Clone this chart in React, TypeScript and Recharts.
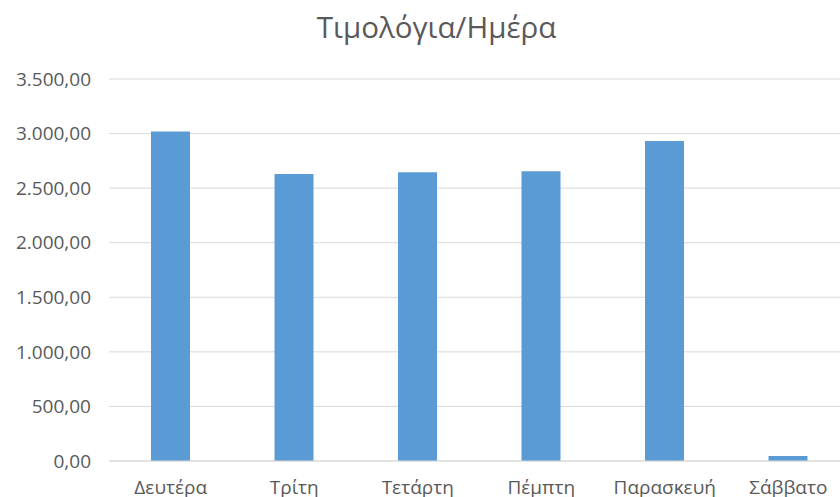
import { BarChart, Bar, XAxis, YAxis, CartesianGrid } from 'recharts'

const days = ['Δευτέρα', 'Τρίτη', 'Τετάρτη', 'Πέμπτη', 'Παρασκευή', 'Σάββατο']
const invoices = [3018, 2630, 2646, 2655, 2933, 46]
const yTicks = [0, 500, 1000, 1500, 2000, 2500, 3000, 3500]

const FONT = '"Open Sans", sans-serif'
const TEXT = '#595959'

// 3500 -> "3.500,00"
function formatGreek(v: number) {
  const [int, dec] = v.toFixed(2).split('.')
  return int.replace(/\B(?=(\d{3})+(?!\d))/g, '.') + ',' + dec
}

export default function App() {
  const data = days.map((day, i) => ({ day, value: invoices[i] }))

  return (
    <div
      style={{
        position: 'absolute',
        left: 0,
        top: 0,
        width: 840,
        height: 497,
        overflow: 'hidden',
        background: '#fff',
        fontFamily: FONT,
      }}
    >
      <div
        style={{
          position: 'absolute',
          left: 0,
          top: 6,
          width: 873,
          textAlign: 'center',
          fontSize: 29.5,
          color: TEXT,
        }}
      >
        Τιμολόγια/Ημέρα
      </div>
      <BarChart
        width={860}
        height={497}
        data={data}
        margin={{ top: 79, right: 10, left: 0, bottom: 0 }}
      >
        <CartesianGrid vertical={false} stroke="#D9D9D9" />
        <XAxis
          dataKey="day"
          height={36}
          tickLine={false}
          axisLine={{ stroke: '#D9D9D9' }}
          tickMargin={14}
          tick={{ fill: TEXT, fontSize: 19, fontFamily: FONT }}
          interval={0}
        />
        <YAxis
          width={109}
          domain={[0, 3500]}
          ticks={yTicks}
          tickFormatter={formatGreek}
          axisLine={false}
          tickLine={false}
          tickMargin={12}
          tick={{ fill: TEXT, fontSize: 19, fontFamily: FONT }}
        />
        <Bar dataKey="value" fill="#5B9BD5" barSize={39} isAnimationActive={false} />
      </BarChart>
    </div>
  )
}
